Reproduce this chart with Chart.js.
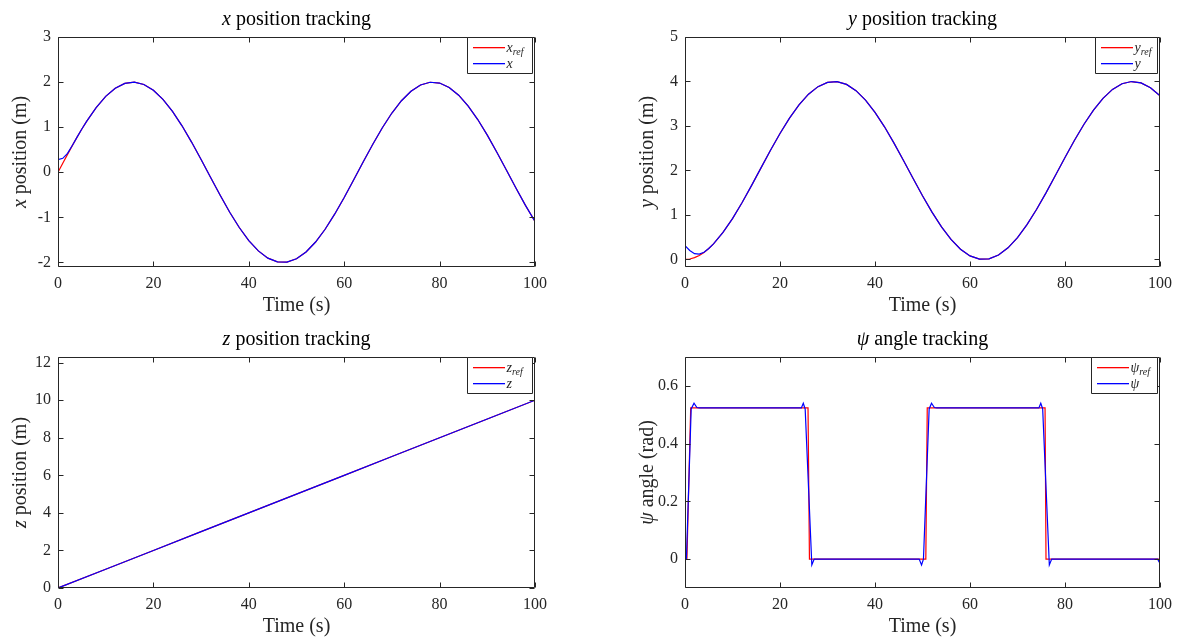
<!DOCTYPE html>
<html>
<head>
<meta charset="utf-8">
<script src="https://cdn.jsdelivr.net/npm/chart.js@4.4.1/dist/chart.umd.min.js"></script>
<style>
  html, body { margin: 0; padding: 0; background: #fff; }
  #wrap { position: relative; width: 1180px; height: 641px; overflow: hidden; background: #fff; }
  canvas { position: absolute; }
</style>
</head>
<body>
<div id="wrap">
  <canvas id="cx"></canvas>
  <canvas id="cy"></canvas>
  <canvas id="cz"></canvas>
  <canvas id="cpsi"></canvas>
</div>
<script>
// ---- sample times (s) for the position channels ----
const tPos = [0,1,2,3,4,5,6,8,10,12,14,16,18,20,22,24,26,28,30,32,34,36,38,40,42,44,46,48,50,
  52,54,56,58,60,62,64,66,68,70,72,74,76,78,80,82,84,86,88,90,92,94,96,98,100];

// x reference and measured x (m)
const xRef = [0,0.200,0.397,0.591,0.779,0.959,1.129,1.435,1.683,1.864,1.971,1.999,1.948,1.819,1.617,
  1.351,1.031,0.670,0.282,-0.117,-0.511,-0.885,-1.224,-1.514,-1.743,-1.903,-1.987,-1.992,-1.918,
  -1.767,-1.546,-1.263,-0.929,-0.559,-0.166,0.233,0.623,0.988,1.314,1.587,1.797,1.936,1.997,1.979,
  1.881,1.709,1.469,1.170,0.824,0.446,0.050,-0.349,-0.733,-1.088];
const xAct = [0.28,0.31,0.42,0.595,0.779,0.959,1.129,1.435,1.683,1.864,1.971,1.999,1.948,1.819,1.617,
  1.351,1.031,0.670,0.282,-0.117,-0.511,-0.885,-1.224,-1.514,-1.743,-1.903,-1.987,-1.992,-1.918,
  -1.767,-1.546,-1.263,-0.929,-0.559,-0.166,0.233,0.623,0.988,1.314,1.587,1.797,1.936,1.997,1.979,
  1.881,1.709,1.469,1.170,0.824,0.446,0.050,-0.349,-0.733,-1.088];

// y reference and measured y (m)
const yRef = [0,0.010,0.040,0.089,0.158,0.245,0.349,0.607,0.919,1.275,1.660,2.058,2.454,2.832,3.177,
  3.475,3.714,3.884,3.980,3.997,3.934,3.794,3.582,3.307,2.981,2.615,2.224,1.825,1.433,1.063,0.731,
  0.449,0.229,0.080,0.007,0.014,0.100,0.261,0.492,0.783,1.123,1.497,1.892,2.291,2.678,3.039,3.357,
  3.622,3.822,3.950,3.999,3.968,3.858,3.678];
const yAct = [0.31,0.20,0.13,0.12,0.16,0.245,0.349,0.607,0.919,1.275,1.660,2.058,2.454,2.832,3.177,
  3.475,3.714,3.884,3.980,3.997,3.934,3.794,3.582,3.307,2.981,2.615,2.224,1.825,1.433,1.063,0.731,
  0.449,0.229,0.080,0.007,0.014,0.100,0.261,0.492,0.783,1.123,1.497,1.892,2.291,2.678,3.039,3.357,
  3.622,3.822,3.950,3.999,3.968,3.858,3.678];

// z reference and measured z (m)
const tZ   = [0,10,20,30,40,50,60,70,80,90,100];
const zRef = [0,1,2,3,4,5,6,7,8,9,10];
const zAct = [0,1,2,3,4,5,6,7,8,9,10];

// heading reference and measured heading (rad)
const psiRefT = [0,0.4,1.2,25.9,26.2,50.7,51.0,75.8,76.0,100];
const psiRef  = [0,0,0.5236,0.5236,0,0,0.5236,0.5236,0,0];
const psiT = [0,0.3,1.3,1.9,2.5,3.0,24.5,24.9,25.3,26.7,27.2,49.3,49.8,50.2,51.4,51.9,52.5,53.0,
  74.5,74.9,75.3,76.7,77.2,99.5,100];
const psi  = [0,0,0.52,0.54,0.525,0.5236,0.5236,0.54,0.52,-0.02,0,0,-0.02,0,0.52,0.54,0.525,0.5236,
  0.5236,0.54,0.52,-0.02,0,0,-0.015];

// ---- tick values and labels ----
const timeTicks = [0,20,40,60,80,100];
const timeTickLabels = ['0','20','40','60','80','100'];
const xTicks = [-2,-1,0,1,2,3];
const xTickLabels = ['-2','-1','0','1','2','3'];
const yTicks = [0,1,2,3,4,5];
const yTickLabels = ['0','1','2','3','4','5'];
const zTicks = [0,2,4,6,8,10,12];
const zTickLabels = ['0','2','4','6','8','10','12'];
const psiTicks = [0,0.2,0.4,0.6];
const psiTickLabels = ['0','0.2','0.4','0.6'];

const SERIF = '"Liberation Serif", "DejaVu Serif", serif';
const REF_COLOR = 'rgb(255,0,0)', ACT_COLOR = 'rgb(0,0,255)';
const AXIS = '#262626', TEXT = '#262626';
const TITLE_SIZE = 20, LABEL_SIZE = 20, TICK_SIZE = 16, LEGEND_SIZE = 14;

function fontOf(run, size) {
  const s = run.sub ? Math.round(size * 0.7) : size;
  return (run.i ? 'italic ' : '') + s + 'px ' + SERIF;
}
function runsWidth(ctx, runs, size) {
  let w = 0;
  for (const r of runs) { ctx.font = fontOf(r, size); w += ctx.measureText(r.t).width; }
  return w;
}
// one line of mixed italic / subscript text; x is the left edge, y the middle
function drawRuns(ctx, runs, x, y, size) {
  ctx.textBaseline = 'middle';
  ctx.textAlign = 'left';
  for (const r of runs) {
    ctx.font = fontOf(r, size);
    ctx.fillText(r.t, x, y + (r.sub ? size * 0.3 : 0));
    x += ctx.measureText(r.t).width;
  }
}

// box frame with inward ticks on all four sides, legend, and titles
function framePlugin(cfg) {
  return {
    id: 'frame_' + cfg.id,
    afterDatasetsDraw(chart) {
      const { ctx, chartArea: a, scales: { x, y } } = chart;
      ctx.save();
      ctx.strokeStyle = AXIS;
      ctx.lineWidth = 1;
      const L = Math.round(a.left) + 0.5, R = Math.round(a.right) - 0.5;
      const T = Math.round(a.top) + 0.5, B = Math.round(a.bottom) - 0.5;
      ctx.beginPath();
      ctx.rect(L, T, R - L, B - T);
      const tl = 5;
      for (const t of x.ticks) {
        const px = Math.round(x.getPixelForValue(t.value)) + 0.5;
        ctx.moveTo(px, B); ctx.lineTo(px, B - tl);
        ctx.moveTo(px, T); ctx.lineTo(px, T + tl);
      }
      for (const t of y.ticks) {
        const py = Math.round(y.getPixelForValue(t.value)) + 0.5;
        ctx.moveTo(L, py); ctx.lineTo(L + tl, py);
        ctx.moveTo(R, py); ctx.lineTo(R - tl, py);
      }
      ctx.stroke();

      // legend box in the upper right corner, swatches in the series colours
      const lw = cfg.legendWidth, lh = 36;
      const bx = Math.round(a.right - 3 - lw) + 0.5, by = T;
      ctx.fillStyle = '#ffffff';
      ctx.fillRect(bx, by, lw, lh);
      ctx.beginPath();
      ctx.rect(bx, by, lw, lh);
      ctx.strokeStyle = AXIS;
      ctx.stroke();
      const swatch = [REF_COLOR, ACT_COLOR];
      cfg.legend.forEach((runs, i) => {
        const ly = Math.round(by + 10 + i * 16);
        ctx.fillStyle = swatch[i];
        ctx.fillRect(Math.round(bx + 5), ly - 1, 32, 1.3);
        ctx.fillStyle = TEXT;
        drawRuns(ctx, runs, bx + 39, ly, LEGEND_SIZE);
      });

      // chart title and axis titles
      ctx.fillStyle = '#000';
      const cx = (a.left + a.right) / 2;
      let w = runsWidth(ctx, cfg.title, TITLE_SIZE);
      drawRuns(ctx, cfg.title, cx - w / 2, a.top - 17, TITLE_SIZE);
      ctx.fillStyle = TEXT;
      const xTitle = [{ t: 'Time (s)' }];
      w = runsWidth(ctx, xTitle, LABEL_SIZE);
      drawRuns(ctx, xTitle, cx - w / 2, a.bottom + 39, LABEL_SIZE);
      ctx.save();
      ctx.translate(a.left - 37, (a.top + a.bottom) / 2);
      ctx.rotate(-Math.PI / 2);
      w = runsWidth(ctx, cfg.yTitle, LABEL_SIZE);
      drawRuns(ctx, cfg.yTitle, -w / 2, 0, LABEL_SIZE);
      ctx.restore();
      ctx.restore();
    }
  };
}

function toXY(ts, vs) { return ts.map((t, i) => ({ x: t, y: vs[i] })); }

function panel(cfg) {
  const cv = document.getElementById(cfg.id);
  const q = cfg.quad, r = cfg.plot;
  cv.width = q.w; cv.height = q.h;
  cv.style.left = q.x + 'px'; cv.style.top = q.y + 'px';
  cv.style.width = q.w + 'px'; cv.style.height = q.h + 'px';
  const YW = 45, XH = 30;
  const pad = { left: r.l - q.x - YW, top: r.t - q.y, right: q.x + q.w - r.r, bottom: q.y + q.h - r.b - XH };
  const tickFont = { family: SERIF, size: TICK_SIZE };
  new Chart(cv, {
    type: 'line',
    data: {
      datasets: [
        { data: cfg.ref, borderColor: REF_COLOR, borderWidth: 1.2, pointRadius: 0, tension: 0, fill: false, order: 1 },
        { data: cfg.act, borderColor: ACT_COLOR, borderWidth: 1.2, pointRadius: 0, tension: 0, fill: false, order: 0 }
      ]
    },
    options: {
      responsive: false, animation: false, devicePixelRatio: 1,
      layout: { padding: pad },
      events: [],
      plugins: { legend: { display: false }, tooltip: { enabled: false }, title: { display: false } },
      scales: {
        x: {
          type: 'linear', min: 0, max: 100,
          afterBuildTicks: s => { s.ticks = timeTicks.map(v => ({ value: v })); },
          afterFit: s => { s.height = XH; s.paddingLeft = 0; s.paddingRight = 0; },
          grid: { display: false, drawTicks: false }, border: { display: false },
          ticks: { font: tickFont, color: TEXT, padding: 7, maxRotation: 0, autoSkip: false,
                   callback: (v, i) => timeTickLabels[i] }
        },
        y: {
          type: 'linear', min: cfg.yMin, max: cfg.yMax,
          afterBuildTicks: s => { s.ticks = cfg.yTicks.map(v => ({ value: v })); },
          afterFit: s => { s.width = YW; s.paddingTop = 0; s.paddingBottom = 0; },
          grid: { display: false, drawTicks: false }, border: { display: false },
          ticks: { font: tickFont, color: TEXT, padding: 7, autoSkip: false,
                   callback: (v, i) => cfg.yTickLabels[i] }
        }
      }
    },
    plugins: [framePlugin(cfg)]
  });
}

panel({
  id: 'cx', quad: { x: 0, y: 0, w: 590, h: 320 }, plot: { l: 58, t: 37, r: 535, b: 267 },
  yMin: -2.1, yMax: 3, yTicks: xTicks, yTickLabels: xTickLabels,
  ref: toXY(tPos, xRef), act: toXY(tPos, xAct),
  title: [{ t: 'x', i: 1 }, { t: ' position tracking' }],
  yTitle: [{ t: 'x', i: 1 }, { t: ' position (m)' }],
  legend: [[{ t: 'x', i: 1 }, { t: 'ref', i: 1, sub: 1 }], [{ t: 'x', i: 1 }]],
  legendWidth: 65
});
panel({
  id: 'cy', quad: { x: 590, y: 0, w: 590, h: 320 }, plot: { l: 685, t: 37, r: 1160, b: 267 },
  yMin: -0.17, yMax: 5, yTicks: yTicks, yTickLabels: yTickLabels,
  ref: toXY(tPos, yRef), act: toXY(tPos, yAct),
  title: [{ t: 'y', i: 1 }, { t: ' position tracking' }],
  yTitle: [{ t: 'y', i: 1 }, { t: ' position (m)' }],
  legend: [[{ t: 'y', i: 1 }, { t: 'ref', i: 1, sub: 1 }], [{ t: 'y', i: 1 }]],
  legendWidth: 62
});
panel({
  id: 'cz', quad: { x: 0, y: 320, w: 590, h: 321 }, plot: { l: 58, t: 357, r: 535, b: 588 },
  yMin: 0, yMax: 12.3, yTicks: zTicks, yTickLabels: zTickLabels,
  ref: toXY(tZ, zRef), act: toXY(tZ, zAct),
  title: [{ t: 'z', i: 1 }, { t: ' position tracking' }],
  yTitle: [{ t: 'z', i: 1 }, { t: ' position (m)' }],
  legend: [[{ t: 'z', i: 1 }, { t: 'ref', i: 1, sub: 1 }], [{ t: 'z', i: 1 }]],
  legendWidth: 65
});
panel({
  id: 'cpsi', quad: { x: 590, y: 320, w: 590, h: 321 }, plot: { l: 685, t: 357, r: 1160, b: 588 },
  yMin: -0.1, yMax: 0.7, yTicks: psiTicks, yTickLabels: psiTickLabels,
  ref: toXY(psiRefT, psiRef), act: toXY(psiT, psi),
  title: [{ t: 'ψ', i: 1 }, { t: ' angle tracking' }],
  yTitle: [{ t: 'ψ', i: 1 }, { t: ' angle (rad)' }],
  legend: [[{ t: 'ψ', i: 1 }, { t: 'ref', i: 1, sub: 1 }], [{ t: 'ψ', i: 1 }]],
  legendWidth: 66
});
</script>
</body>
</html>
